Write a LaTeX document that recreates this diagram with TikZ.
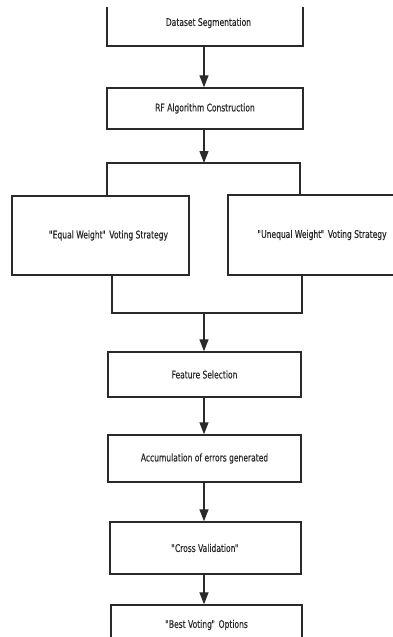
\documentclass[tikz,border=0pt]{standalone}
\usepackage{fontspec}
\setmainfont[FakeStretch=0.72,FakeBold=0.4]{DejaVu Sans}
\usetikzlibrary{arrows.meta}
\definecolor{ink}{HTML}{2A2A2A}
\newcommand{\oq}{\textquotedbl\kern-1.1pt}
\newcommand{\cq}{\kern-0.5pt\textquotedbl}
\tikzset{
  stepbox/.style={draw=ink, line width=1.4pt, fill=white, inner sep=0pt, text=ink,
    font=\fontsize{10.5}{12}\selectfont},
  link/.style={draw=ink, line width=1.3pt},
  arrowlink/.style={link, -{Triangle[length=12pt,width=9pt]}}
}
\begin{document}
\begin{tikzpicture}[x=1pt,y=-1pt]
\useasboundingbox (0,0) rectangle (392,637);
\fill[white] (0,0) rectangle (392,637);
\begin{scope}
\clip (-10,7.5) rectangle (402,650);
\node[stepbox, minimum width=196pt, minimum height=46pt] (ds) at (205,23) {\hspace*{7pt}Dataset Segmentation};
\node[stepbox, minimum width=196pt, minimum height=41pt] (rf) at (205,108.5) {RF Algorithm Construction};
\node[stepbox, minimum width=177pt, minimum height=79pt] (eq) at (100.5,235.5) {\hspace*{16pt}\oq Equal Weight\cq{} Voting Strategy};
\node[stepbox, minimum width=188pt, minimum height=80pt] (uq) at (322,235) {\oq Unequal Weight\cq{} Voting Strategy};
\node[stepbox, minimum width=193pt, minimum height=45pt] (fs) at (204.5,374.5) {Feature Selection};
\node[stepbox, minimum width=193pt, minimum height=47pt] (acc) at (204.5,458.5) {Accumulation of errors generated};
\node[stepbox, minimum width=191pt, minimum height=52pt] (cv) at (205.5,548) {\oq Cross Validation\cq};
\node[stepbox, minimum width=191pt, minimum height=40pt] (bv) at (206.5,625) {\oq Best Voting\cq{} Options};

\coordinate (split) at (204,163);
\coordinate (splitL) at (107,163);
\coordinate (splitR) at (300,163);
\coordinate (merge) at (204,313);
\coordinate (mergeL) at (112,313);
\coordinate (mergeR) at (302,313);

\draw[arrowlink] (ds.south -| split) -- (rf.north -| split);
\draw[arrowlink] (rf.south -| split) -- (split);
\draw[link] (eq.north -| splitL) -- (splitL) -- (splitR) -- (uq.north -| splitR);
\draw[link] (eq.south -| mergeL) -- (mergeL) -- (mergeR) -- (uq.south -| mergeR);
\draw[arrowlink] (merge) -- (fs.north -| merge);
\draw[arrowlink] (fs.south -| merge) -- (acc.north -| merge);
\draw[arrowlink] (acc.south -| merge) -- (cv.north -| merge);
\draw[arrowlink] (cv.south -| merge) -- (bv.north -| merge);
\end{scope}
\end{tikzpicture}
\end{document}
